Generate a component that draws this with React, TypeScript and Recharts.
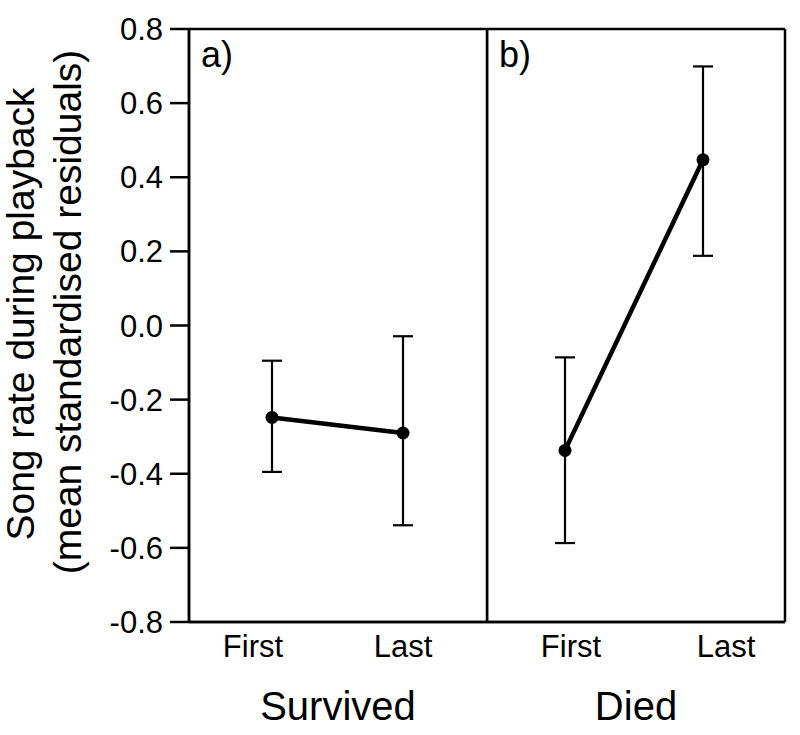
import { CartesianGrid, ErrorBar, Line, LineChart, ReferenceLine, XAxis, YAxis } from 'recharts'

const CONDITIONS = ['First', 'Last']
const SURVIVED_MEAN = [-0.248, -0.29]
const SURVIVED_LOW = [-0.395, -0.539]
const SURVIVED_HIGH = [-0.095, -0.029]
const DIED_MEAN = [-0.337, 0.447]
const DIED_LOW = [-0.587, 0.188]
const DIED_HIGH = [-0.086, 0.699]
const Y_TICKS = [-0.8, -0.6, -0.4, -0.2, 0, 0.2, 0.4, 0.6, 0.8]
const GROUPS = ['Survived', 'Died']
const PANEL_TAGS = ['a)', 'b)']
const Y_TITLE = ['Song rate during playback', '(mean standardised residuals)']

const FONT = '"Liberation Sans", Arial, Helvetica, sans-serif'
const AXIS = { stroke: '#000', strokeWidth: 2.5 }

function buildRows(mean: number[], low: number[], high: number[]) {
  return CONDITIONS.map((c, i) => ({
    cond: c,
    mean: mean[i],
    err: [mean[i] - low[i], high[i] - mean[i]],
  }))
}

const renderYTitle = () => (
  <g>
    <text transform="translate(34, 314) rotate(-90)" textAnchor="middle" fontSize={39} fill="#000">
      {Y_TITLE[0]}
    </text>
    <text transform="translate(81, 312) rotate(-90)" textAnchor="middle" fontSize={39} fill="#000">
      {Y_TITLE[1]}
    </text>
  </g>
)

// frame lines on the plot-area edges
const frameX = ({ offset }: any) => [offset.left, offset.left + offset.width]
const frameY = ({ offset }: any) => [offset.top, offset.top + offset.height]

// category labels in the original sit a little off the points
const makeTick = (shift: number[]) => (props: any) => {
  const { x, y, payload } = props
  const i = CONDITIONS.indexOf(payload.value)
  return (
    <text x={x + (shift[i] ?? 0)} y={y} dy="0.71em" textAnchor="middle" fontSize={31} fill="#000">
      {payload.value}
    </text>
  )
}

interface PanelProps {
  rows: { cond: string; mean: number; err: number[] }[]
  group: string
  tag: string
  first: boolean
  padding: { left: number; right: number }
  tickShift: number[]
}

function Panel({ rows, group, tag, first, padding, tickShift }: PanelProps) {
  const width = first ? 490 : 301
  return (
    <LineChart
      width={width}
      height={735}
      data={rows}
      margin={{ top: 29, right: 3, bottom: 0, left: 0 }}
    >
      <CartesianGrid
        stroke="#000"
        strokeWidth={2.5}
        verticalCoordinatesGenerator={frameX}
        horizontalCoordinatesGenerator={frameY}
      />
      <XAxis
        dataKey="cond"
        height={113}
        padding={padding}
        axisLine={AXIS}
        tickLine={false}
        tickSize={0}
        tickMargin={13}
        tick={makeTick(tickShift)}
        label={{ value: group, position: 'insideBottom', offset: 15, fill: '#000', fontSize: 40 }}
      />
      {first ? (
        <YAxis
          domain={[-0.8, 0.8]}
          ticks={Y_TICKS}
          width={189}
          axisLine={AXIS}
          tickLine={AXIS}
          tickSize={19}
          tickMargin={7}
          tick={{ fill: '#000', fontSize: 31 }}
          tickFormatter={(v: number) => v.toFixed(1)}
          label={{ content: renderYTitle }}
        />
      ) : (
        <YAxis hide domain={[-0.8, 0.8]} />
      )}
      <ReferenceLine
        y={0.8}
        stroke="none"
        label={{ value: tag, position: 'insideTopLeft', offset: 12, fill: '#000', fontSize: 36 }}
      />
      <Line
        dataKey="mean"
        stroke="#000"
        strokeWidth={4.5}
        dot={{ r: 6.5, fill: '#000', stroke: 'none' }}
        activeDot={false}
        isAnimationActive={false}
      >
        <ErrorBar dataKey="err" width={10} stroke="#000" strokeWidth={2.2} isAnimationActive={false} />
      </Line>
    </LineChart>
  )
}

export default function App() {
  return (
    <div
      style={{
        position: 'absolute',
        left: 0,
        top: 0,
        width: 800,
        height: 735,
        background: '#fff',
        fontFamily: FONT,
      }}
    >
      <div style={{ position: 'absolute', left: 0, top: 0 }}>
        <Panel
          rows={buildRows(SURVIVED_MEAN, SURVIVED_LOW, SURVIVED_HIGH)}
          group={GROUPS[0]}
          tag={PANEL_TAGS[0]}
          first
          padding={{ left: 83, right: 84 }}
          tickShift={[-19, 0]}
        />
      </div>
      <div style={{ position: 'absolute', left: 487, top: 0 }}>
        <Panel
          rows={buildRows(DIED_MEAN, DIED_LOW, DIED_HIGH)}
          group={GROUPS[1]}
          tag={PANEL_TAGS[1]}
          first={false}
          padding={{ left: 78, right: 82 }}
          tickShift={[6, 23]}
        />
      </div>
    </div>
  )
}
